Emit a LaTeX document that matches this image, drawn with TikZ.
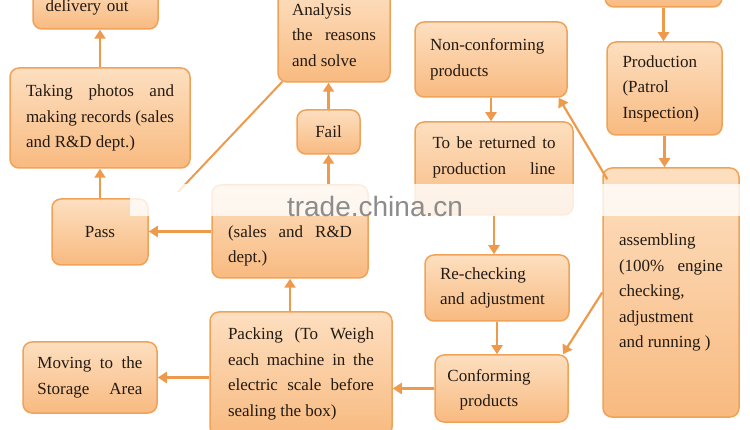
\documentclass[tikz,border=0pt]{standalone}
\usepackage{fontspec}
\setmainfont{Liberation Serif}
\newfontfamily\wmfont{Liberation Sans}
\usetikzlibrary{arrows.meta}
\definecolor{boxtop}{HTML}{FDDFC0}
\definecolor{boxbot}{HTML}{F8BA80}
\definecolor{boxline}{HTML}{F0A258}
\definecolor{arrowc}{HTML}{EE9A4C}
\definecolor{textc}{HTML}{231A12}
\definecolor{wmgray}{HTML}{8C8C8C}
\begin{document}
\begin{tikzpicture}[x=1pt,y=-1pt,
  box/.style={draw=boxline, line width=1.5pt, rounded corners=9pt,
    top color=boxtop, bottom color=boxbot, inner sep=0pt,
    text=textc, font=\fontsize{17}{25.5}\selectfont},
  txt/.style={text=textc, font=\fontsize{17}{25.5}\selectfont, inner sep=0pt},
  conn/.style={draw=arrowc, line width=2.2pt, -{Triangle[length=9pt,width=11pt]}},
  plainline/.style={draw=arrowc, line width=2pt}]
\useasboundingbox (0,0) rectangle (750,430);

% boxes
\node[box, minimum width=125pt, minimum height=48pt, text width=100pt, align=left] (deliv) at (95.5,5) {};
\node[txt, text width=100pt, align=left] (delivtxt) at (95.5,7.5) {delivery out};
\node[box, minimum width=180pt, minimum height=100pt, text width=148pt, align=justify] (photos) at (100,118)
  {Taking photos and\linebreak making records (sales\linebreak and R\&D dept.)};
\node[box, minimum width=112pt, minimum height=94pt, text width=84pt, align=justify] (analysis) at (334,35)
  {Analysis\linebreak the reasons\linebreak and solve};
\node[box, minimum width=63pt, minimum height=44pt] (fail) at (328.5,132) {Fail};
\node[box, minimum width=96pt, minimum height=66pt] (pass) at (100,232) {Pass};
\node[box, minimum width=156pt, minimum height=93pt] (mid) at (290,231.5) {};
\node[txt, text width=124pt, align=justify] (midtxt) at (290,246) {(sales and R\&D\linebreak dept.)};
\node[box, minimum width=182pt, minimum height=124pt, text width=146pt, align=justify] (packing) at (301,374)
  {Packing (To Weigh\linebreak each machine in the\linebreak electric scale before\linebreak sealing the box)};
\node[box, minimum width=134pt, minimum height=71pt, text width=105pt, align=justify] (moving) at (90,377.5)
  {Moving to the\linebreak Storage\hfill Area};
\node[box, minimum width=152pt, minimum height=75pt, text width=122pt, align=left] (noncon) at (491,59.5)
  {Non-conforming\\products};
\node[box, minimum width=158pt, minimum height=93pt] (toberet) at (494,168.5) {};
\node[txt, text width=123pt, align=justify] (totxt) at (494,157.5) {To be returned to\linebreak production\hfill line};
\node[box, minimum width=144pt, minimum height=66pt, text width=114pt, align=left] (recheck) at (497,288)
  {Re-checking\\and adjustment};
\node[box, minimum width=133pt, minimum height=67pt] (conform) at (501.5,388.5) {};
\node[txt, text width=110pt, align=center] (conftxt) at (489,390) {Conforming\\products};
\node[box, minimum width=117pt, minimum height=47pt] (topright) at (663.5,-16.5) {};
\node[box, minimum width=115pt, minimum height=93pt, text width=84pt, align=left] (production) at (664.5,88.5)
  {Production\\(Patrol\\Inspection)};
\node[box, minimum width=136pt, minimum height=249pt, text width=104pt, align=justify] (big) at (671,292.5)
  {assembling\linebreak (100\% engine\linebreak checking,\linebreak adjustment\linebreak and running )};

% connectors
\draw[conn] (photos.north) -- (photos.north |- deliv.south);
\draw[conn] (fail.north) -- (fail.north |- analysis.south);
\draw[conn] (mid.north -| fail.south) -- (fail.south);
\coordinate (lineend) at (178,192);
\draw[plainline] ([xshift=5pt,yshift=1pt]analysis.south west) -- (lineend);
\draw[conn] (pass.north) -- (pass.north |- photos.south);
\draw[conn] (mid.west) -- (mid.west -| pass.east);
\draw[conn] (packing.north -| mid.south) -- (mid.south);
\draw[conn] (packing.west |- moving.east) -- (moving.east);
\draw[conn] (conform.west) -- (conform.west -| packing.east);
\draw[conn] (noncon.south) -- (noncon.south |- toberet.north);
\draw[conn] (toberet.south) -- (toberet.south |- recheck.north);
\draw[conn] (recheck.south) -- (recheck.south |- conform.north);
\draw[conn] (topright.south) -- (topright.south |- production.north);
\draw[conn] (production.south) -- (production.south |- big.north);
\draw[conn] ([xshift=5pt,yshift=-12pt]big.north west) -- ([xshift=-9pt]noncon.south east);
\draw[conn] (big.west) -- ([xshift=-6pt]conform.north east);

% watermark band
\fill[white, opacity=0.8] (130,184) rectangle (750,216);
\node[text=wmgray, font=\wmfont\fontsize{28}{30}\selectfont, inner sep=0pt] (wm) at (375,206) {trade.china.cn};
\end{tikzpicture}
\end{document}
